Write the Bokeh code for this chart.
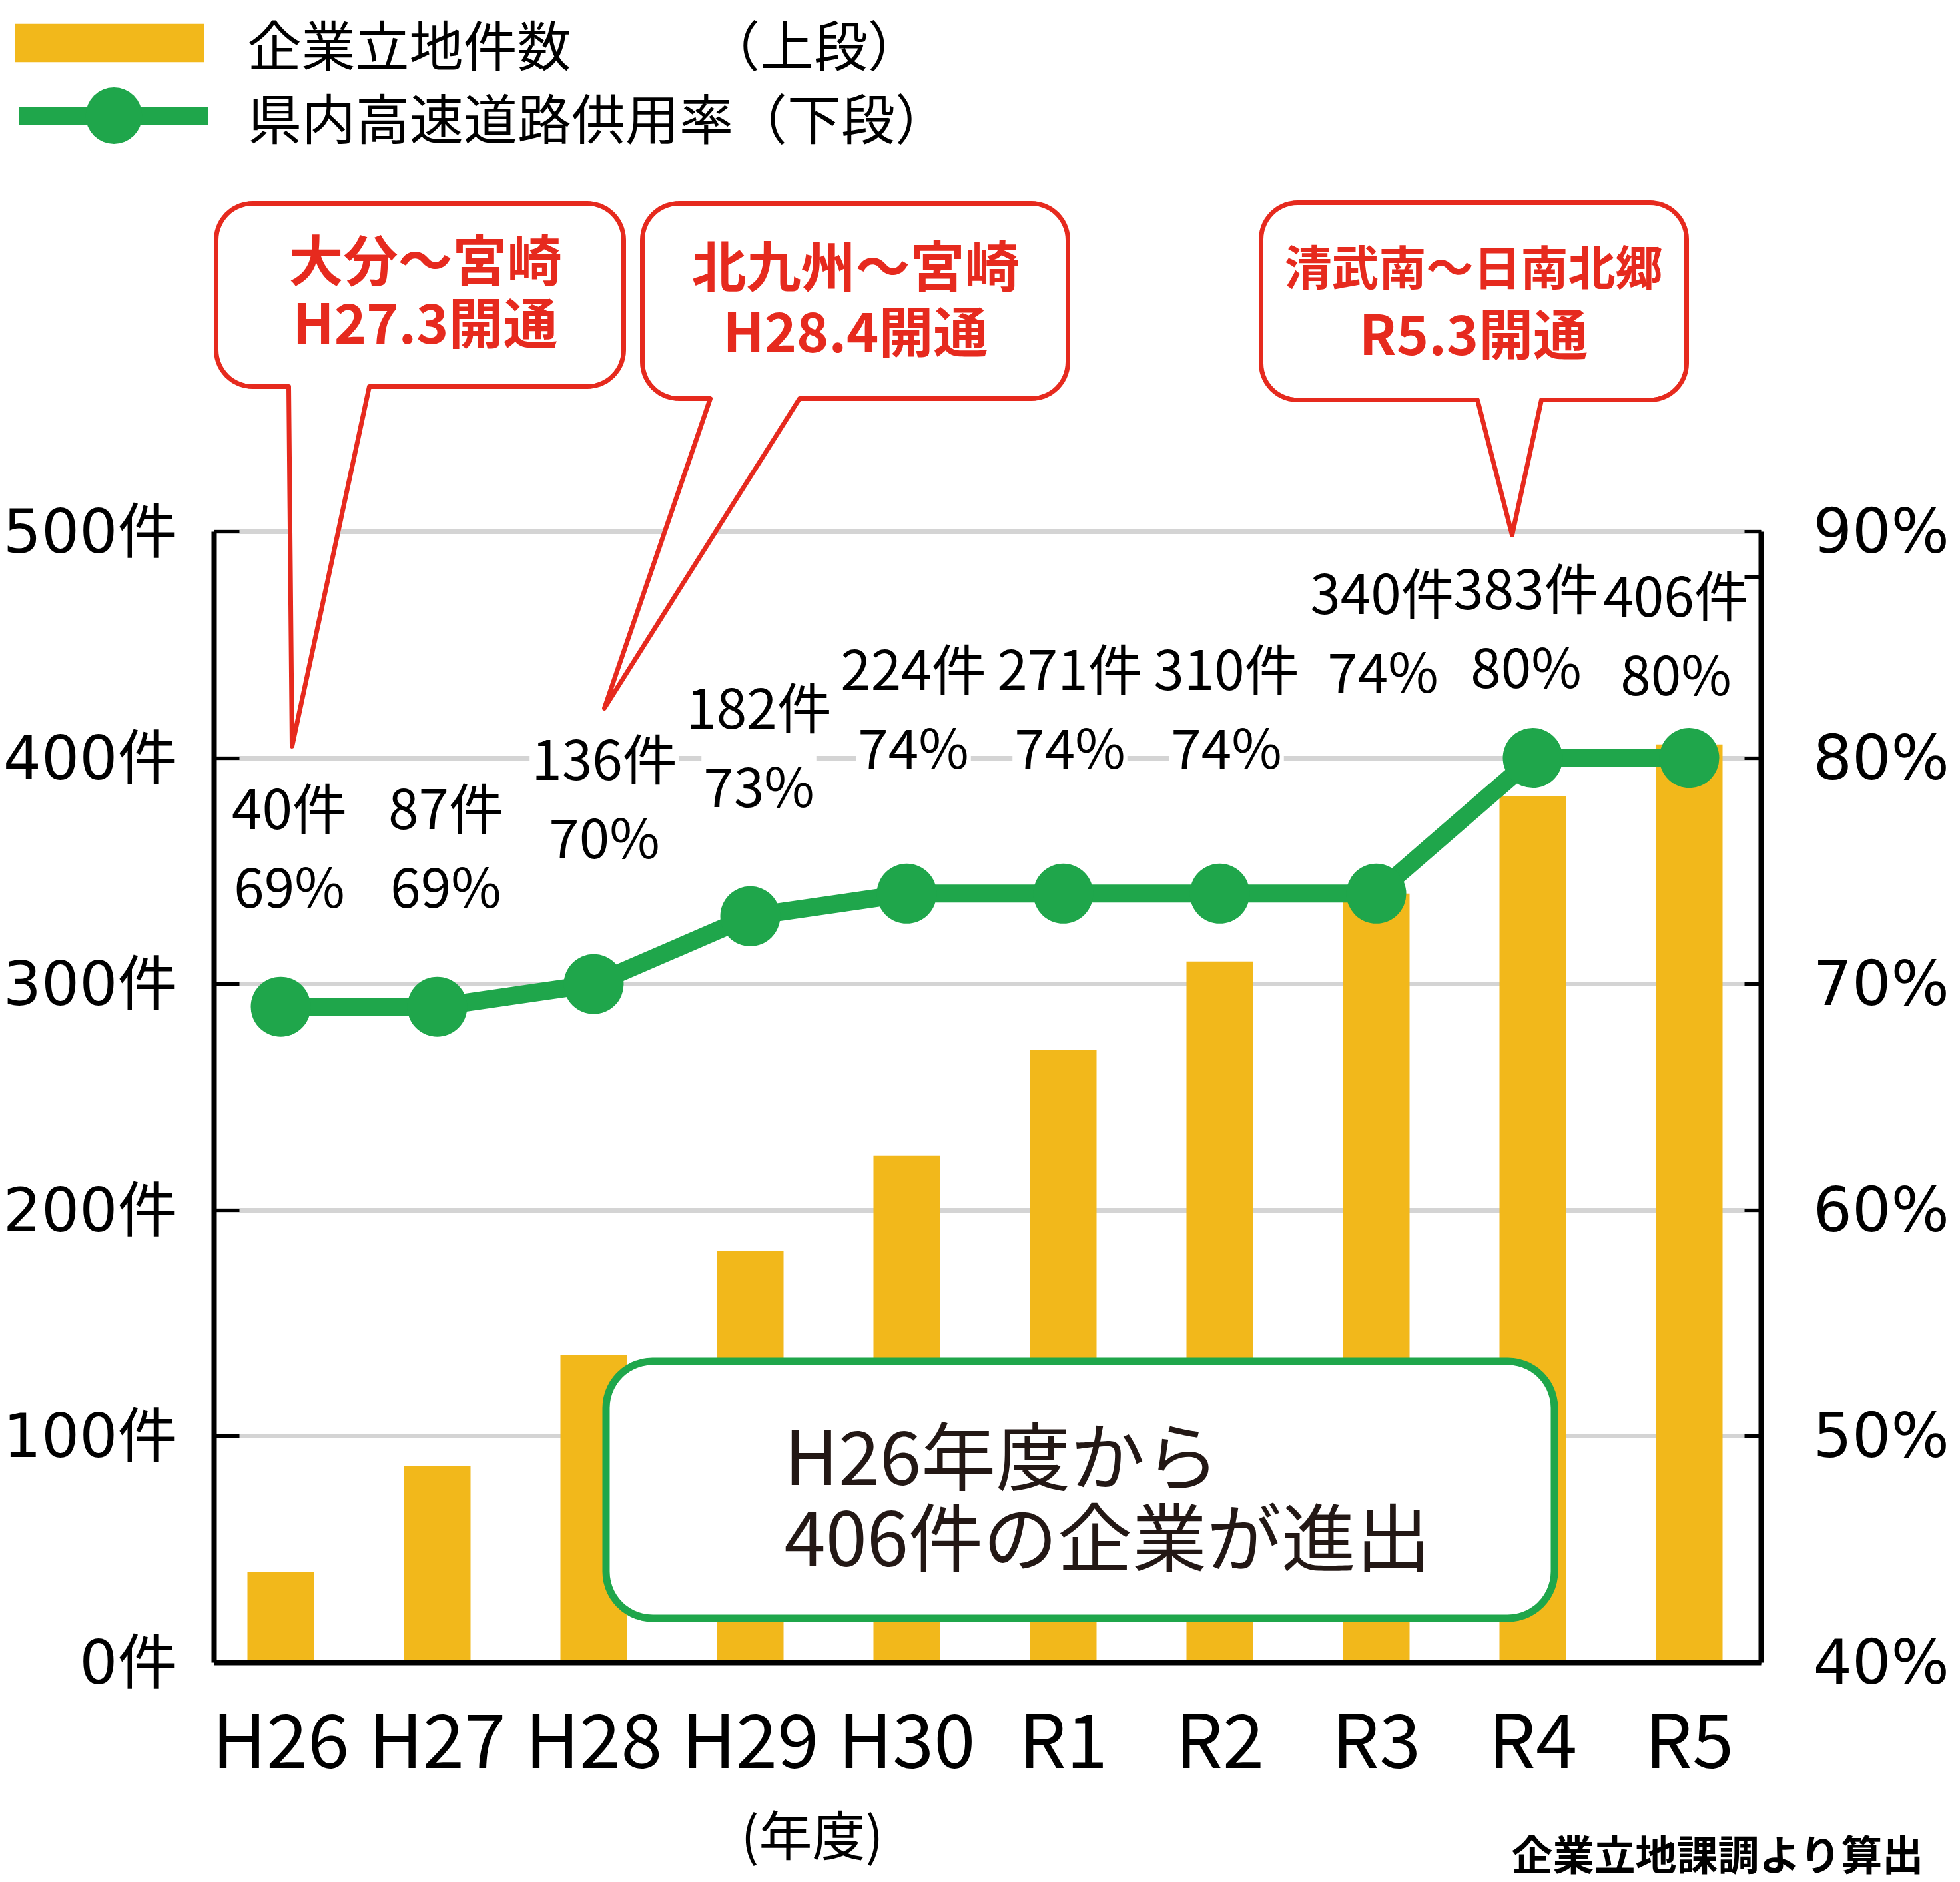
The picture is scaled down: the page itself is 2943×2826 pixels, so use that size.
import math
from bokeh.plotting import figure
from bokeh.layouts import column
from bokeh.models import (Range1d, LinearAxis, FixedTicker, PrintfTickFormatter,
                          Legend, LegendItem, Label, ColumnDataSource)
from bokeh.core.properties import value
from bokeh.embed import file_html
from bokeh.resources import INLINE

# ---------------- data ----------------
years = ["H26", "H27", "H28", "H29", "H30", "R1", "R2", "R3", "R4", "R5"]
sites = [40, 87, 136, 182, 224, 271, 310, 340, 383, 406]      # 企業立地件数
rates = [69, 69, 70, 73, 74, 74, 74, 74, 80, 80]               # 県内高速道路供用率 (%)
count_ticks = [0, 100, 200, 300, 400, 500]
rate_ticks = [40, 50, 60, 70, 80, 90]
series_names = ["企業立地件数　　　（上段）", "県内高速道路供用率（下段）"]
callout_lines = [["大分～宮崎", "H27.3開通"],
                 ["北九州～宮崎", "H28.4開通"],
                 ["清武南～日南北郷", "R5.3開通"]]
summary_lines = ["H26年度から", "406件の企業が進出"]
x_unit_label = "(年度)"
source_note = "企業立地課調より算出"

# ---------------- layout (page pixels) ----------------
W, H = 2943, 2826
TOP_H = 270                 # legend strip
SPLIT = 2690                # start of the bottom note strip
FL, FR, FB = 321, 2644, 2496
Y_TOP_TICK = 798
X_FIRST, X_STEP = 421, 235
PPU = (FB - Y_TOP_TICK) / count_ticks[-1]

def dx(px):
    return (px - X_FIRST) / X_STEP

def dy(py):
    return (FB - py) / PPU

pct_per_count = (rate_ticks[-1] - rate_ticks[0]) / count_ticks[-1]

YELLOW = "#F2B81B"
GREEN = "#1FA64B"
RED = "#E62A1E"
GRID = "#D4D4D4"
CJK = "Noto Sans CJK JP"
WIDE = "'DejaVu Sans', 'Noto Sans CJK JP', sans-serif"

xs = list(range(len(years)))
src = ColumnDataSource(dict(x=xs, sites=sites, rates=rates))


def strip(height):
    f = figure(width=W, height=height, output_backend="svg", toolbar_location=None,
               x_range=Range1d(0, W), y_range=Range1d(height, 0),
               x_axis_location=None, y_axis_location=None,
               min_border_left=0, min_border_right=0, min_border_top=0,
               min_border_bottom=0)
    f.frame_align = False
    f.grid.visible = False
    f.outline_line_color = None
    f.background_fill_color = "white"
    f.border_fill_color = "white"
    return f

# ======================= main chart =======================
MAIN_H = SPLIT - TOP_H
y_hi = dy(TOP_H)
p = figure(width=W, height=MAIN_H, output_backend="svg", toolbar_location=None,
           x_range=Range1d(dx(FL), dx(FR)), y_range=Range1d(0, y_hi),
           min_border_left=FL, min_border_right=W - FR,
           min_border_top=0, min_border_bottom=SPLIT - FB)
p.frame_align = False
p.extra_y_ranges = {"pct": Range1d(rate_ticks[0], rate_ticks[0] + y_hi * pct_per_count)}
p.outline_line_color = None
p.background_fill_color = "white"
p.border_fill_color = "white"

p.xgrid.visible = False
p.ygrid.ticker = FixedTicker(ticks=count_ticks[1:])
p.ygrid.grid_line_color = GRID
p.ygrid.grid_line_width = 7

la = p.yaxis[0]
la.ticker = FixedTicker(ticks=count_ticks)
la.formatter = PrintfTickFormatter(format="%d件")
la.bounds = (count_ticks[0], count_ticks[-1])
la.axis_line_width = 8
la.major_tick_in = 38
la.major_tick_out = 0
la.major_tick_line_width = 5
la.minor_tick_line_color = None
la.major_label_standoff = 55
la.major_label_text_font = WIDE
la.major_label_text_font_size = "90px"
la.major_label_text_color = "black"

ra = LinearAxis(y_range_name="pct",
                ticker=FixedTicker(ticks=rate_ticks, minor_ticks=[88]),
                formatter=PrintfTickFormatter(format="%d%%"),
                bounds=(rate_ticks[0], rate_ticks[-1]))
ra.axis_line_width = 8
ra.major_tick_in = 25
ra.major_tick_out = 0
ra.major_tick_line_width = 5
ra.minor_tick_in = 25
ra.minor_tick_out = 0
ra.minor_tick_line_width = 5
ra.major_label_standoff = 78
ra.major_label_text_font = WIDE
ra.major_label_text_font_size = "92px"
ra.major_label_text_color = "black"
p.add_layout(ra, "right")

xa = p.xaxis[0]
xa.ticker = FixedTicker(ticks=xs)
xa.major_label_overrides = {i: y for i, y in enumerate(years)}
xa.axis_line_width = 8
xa.major_tick_in = 0
xa.major_tick_out = 0
xa.minor_tick_line_color = None
xa.major_label_standoff = 28
xa.major_label_text_font = CJK
xa.major_label_text_font_size = "112px"
xa.major_label_text_color = "black"

bars = p.vbar(x="x", top="sites", width=100 / X_STEP, source=src,
              fill_color=YELLOW, line_color=None)

# two-line value labels (white knock-out where they cross the 400件 grid line)
label_base_px = [1327, 1327, 1253, 1176, 1118, 1118, 1118, 1004, 997, 1008]
label_dx_px = [13, 13, 16, 13, 10, 10, 10, 10, -10, -20]
lab = ColumnDataSource(dict(
    x=[i + d / X_STEP for i, d in zip(xs, label_dx_px)],
    y=[dy(b) for b in label_base_px],
    cnt=[f"{v}件" for v in sites],
    pct=[f"{r}%" for r in rates],
    cnt_bg=[0, 0, 1, 1, 1, 1, 1, 1, 1, 1],
    pct_bg=[1] * len(xs)))
for col, off in (("pct", 0), ("cnt", -118)):
    p.text(x="x", y="y", text=col, source=lab, text_align="center", y_offset=off,
           text_baseline="alphabetic", text_font=value(CJK), text_font_size="82px",
           text_color="black", background_fill_color="white",
           background_fill_alpha=col + "_bg", padding=3)

line = p.line(x="x", y="rates", source=src, y_range_name="pct",
              line_color=GREEN, line_width=27, line_join="round")
dots = p.scatter(x="x", y="rates", source=src, y_range_name="pct",
                 size=90, fill_color=GREEN, line_color=None)

def rounded_path(x0, y0, x1, y1, r, tail=None, tip=None, n=14):
    pts = []
    def arc(cx, cy, a0, a1):
        for k in range(n + 1):
            t = a0 + (a1 - a0) * k / n
            pts.append((cx + r * math.cos(t), cy + r * math.sin(t)))
    arc(x0 + r, y0 + r, math.pi, 1.5 * math.pi)
    arc(x1 - r, y0 + r, 1.5 * math.pi, 2 * math.pi)
    arc(x1 - r, y1 - r, 0, 0.5 * math.pi)
    if tail is not None:
        pts += [(tail[1], y1), tip, (tail[0], y1)]
    arc(x0 + r, y1 - r, 0.5 * math.pi, math.pi)
    return [dx(q[0]) for q in pts], [dy(q[1]) for q in pts]

callout_geo = [
    dict(box=(324, 305, 936, 580), tail=(433, 554), tip=(438, 1120),
         tx=638, ty=(386, 480), fs=(82, 82)),
    dict(box=(964, 305, 1603, 598), tail=(1066, 1200), tip=(907, 1063),
         tx=1284, ty=(395, 493), fs=(82, 82)),
    dict(box=(1893, 304, 2532, 600), tail=(2218, 2314), tip=(2270, 803),
         tx=2212, ty=(396, 497), fs=(71, 82)),
]
cx_list, cy_list = [], []
for g in callout_geo:
    a, b = rounded_path(*g["box"], 55, g["tail"], g["tip"])
    cx_list.append(a)
    cy_list.append(b)
p.patches(cx_list, cy_list, fill_color="white", line_color=RED, line_width=7,
          line_join="round")
for g, lines in zip(callout_geo, callout_lines):
    for t, yy, fs in zip(lines, g["ty"], g["fs"]):
        p.add_layout(Label(x=dx(g["tx"]), y=dy(yy), text=t, text_align="center",
                           text_baseline="middle", text_font=CJK, text_font_style="bold",
                           text_font_size=f"{fs}px", text_color=RED))

bx, by = rounded_path(909.5, 2043.5, 2333.5, 2429.5, 70)
p.patch(bx, by, fill_color="white", line_color=GREEN, line_width=11)
for t, yy in zip(summary_lines, (2180, 2302)):
    p.add_layout(Label(x=dx(1177), y=dy(yy), text=t, text_align="left",
                       text_baseline="middle", text_font=CJK,
                       text_font_size="112px", text_color="#231815"))

# ======================= legend strip =======================
top = strip(TOP_H)
k_bars = top.vbar(x="x", top="sites", width=0.4, source=src, fill_color=YELLOW,
                  line_color=None, visible=False)
k_line = top.line(x="x", y="rates", source=src, line_color=GREEN, line_width=27,
                  visible=False)
k_dots = top.scatter(x="x", y="rates", source=src, size=85, fill_color=GREEN,
                     line_color=None, visible=False)

common = dict(padding=0, margin=0, spacing=0, border_line_color=None,
              background_fill_alpha=0, inactive_fill_alpha=0, label_text_font=CJK,
              label_text_font_size="81px", label_text_color="black")
leg1 = Legend(items=[LegendItem(label=series_names[0], renderers=[k_bars])],
              location=(-13.5, 148),
              glyph_width=355, glyph_height=72, label_height=72,
              label_standoff=30, label_text_baseline="alphabetic", **common)
leg2 = Legend(items=[LegendItem(label=series_names[1], renderers=[k_line, k_dots])],
              location=(28, TOP_H - (67 + 212)),
              glyph_width=285, glyph_height=212, label_height=212,
              label_standoff=59, **common)
top.add_layout(leg1)
top.add_layout(leg2)

# ======================= note strip =======================
BOT_H = H - SPLIT
bot = strip(BOT_H)
bot.add_layout(Label(x=1219, y=60, text=x_unit_label, text_align="center",
                     text_baseline="middle", text_font=CJK, text_font_size="80px",
                     text_color="black"))
bot.add_layout(Label(x=2889, y=BOT_H - 45, text=source_note, text_align="right",
                     text_baseline="middle", text_font=CJK, text_font_style="bold",
                     text_font_size="62px", text_color="black"))

layout = column(top, p, bot, spacing=0)
open("out.html", "w").write(file_html(layout, INLINE))
